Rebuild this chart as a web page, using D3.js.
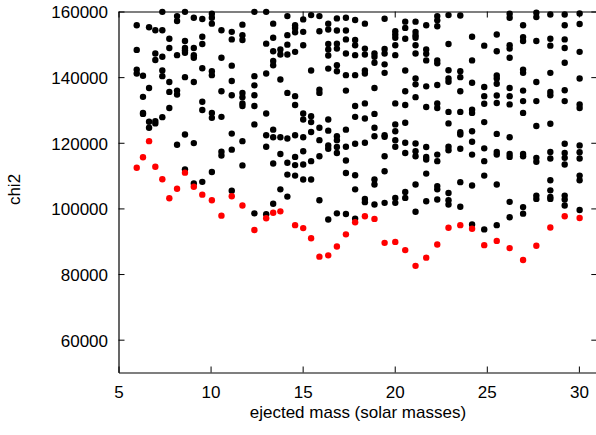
<!DOCTYPE html>
<html>
<head>
<meta charset="utf-8">
<script src="https://cdn.jsdelivr.net/npm/d3@7"></script>
<style>
  html, body { margin: 0; padding: 0; background: #fff; }
  svg { display: block; }
  text { font-family: "Liberation Sans", Arial, Helvetica, sans-serif; fill: #000; }
</style>
</head>
<body>
<svg id="chart" width="596" height="435"></svg>
<script>
// ---- data ----
const massGrid = [5.99, 6.33, 6.66, 7.00, 7.38, 7.76, 8.18, 8.61, 9.09, 9.55, 10.07, 10.59, 11.15,
  11.73, 12.38, 13.02, 13.40, 13.79, 14.17, 14.59, 15.03, 15.46, 15.91, 16.39, 16.86, 17.35, 17.85,
  18.38, 18.90, 19.45, 20.03, 20.57, 21.13, 21.71, 22.31, 22.92, 23.56, 24.20, 24.86, 25.54, 26.24,
  26.97, 27.69, 28.45, 29.23, 30.04];

// chi2 values of all fits at each mass of massGrid (thousands)
const chi2ByMass = [
  [155.8, 148.3, 142.3, 141.1],
  [140.4, 134.0, 129.1, 128.8],
  [155.2, 136.7, 126.4, 124.6],
  [154.3, 147.2, 145.2, 126.6, 125.9],
  [159.9, 154.3, 146.2, 142.0, 140.3, 127.8],
  [151.7, 148.9, 138.5, 135.5, 130.6],
  [158.6, 157.1, 146.7, 135.9, 134.7, 119.4],
  [159.9, 151.0, 148.9, 148.1, 147.4, 140.0, 122.5, 111.9],
  [158.1, 148.9, 146.7, 145.9, 138.5, 119.9, 107.6],
  [157.7, 152.3, 150.1, 142.7, 132.5, 130.0, 108.1],
  [159.3, 158.1, 156.3, 141.8, 140.6, 129.1, 127.6, 111.1],
  [154.3, 145.9, 135.7, 127.9, 117.3, 116.1],
  [153.8, 151.5, 143.5, 138.8, 134.5, 122.8, 117.9, 105.4],
  [156.0, 152.8, 151.3, 135.2, 133.9, 132.0, 131.2, 120.5, 113.1],
  [159.9, 140.3, 137.5, 134.5, 131.2, 125.6, 98.5],
  [159.9, 150.2, 141.1, 128.9, 122.3, 118.8, 98.2],
  [156.3, 152.0, 147.9, 144.9, 143.6, 124.0, 121.7, 113.7, 101.4],
  [148.4, 146.9, 139.3, 121.7, 116.6, 105.8],
  [158.6, 152.8, 149.9, 146.9, 135.2, 121.3, 113.9, 110.3, 103.6],
  [155.8, 155.0, 153.7, 147.7, 134.2, 131.5, 122.3, 115.7, 113.2, 110.0],
  [157.6, 153.8, 149.7, 128.9, 127.1, 121.7, 117.4, 113.4, 108.8],
  [158.9, 142.0, 128.1, 126.3, 123.3, 114.4, 108.8],
  [158.6, 154.0, 136.2, 135.2, 124.6, 120.8, 115.9, 102.5],
  [156.3, 154.5, 150.1, 148.4, 146.6, 142.6, 127.1, 123.7, 119.2, 118.2, 96.6],
  [157.9, 154.2, 150.2, 148.7, 143.6, 141.8, 122.0, 120.8, 118.7, 116.9, 98.5],
  [158.1, 154.2, 151.5, 147.2, 140.6, 135.9, 124.0, 118.8, 114.6, 110.8, 98.3],
  [157.4, 151.3, 149.7, 146.7, 140.6, 131.2, 127.9, 119.7, 110.1, 105.8, 96.9],
  [156.3, 148.7, 146.9, 142.0, 141.1, 132.0, 127.4, 120.0, 102.9, 101.9],
  [147.2, 146.2, 144.4, 136.7, 128.8, 124.6, 122.0, 108.8, 107.3, 101.2],
  [157.8, 148.6, 147.2, 143.9, 141.3, 122.3, 121.8, 115.9, 111.3, 101.7],
  [154.0, 153.0, 152.0, 149.7, 146.7, 132.0, 125.6, 123.5, 120.8, 118.8, 103.2, 101.7],
  [156.9, 155.0, 151.7, 142.0, 135.7, 131.5, 126.1, 120.0, 116.9, 105.0, 103.2],
  [156.9, 153.8, 152.8, 152.0, 149.7, 147.2, 139.6, 137.8, 133.9, 119.8, 117.4, 115.9, 107.3, 99.0],
  [155.8, 148.4, 147.1, 145.1, 137.2, 130.9, 118.7, 115.7, 114.9, 110.6, 102.2],
  [158.6, 157.3, 155.5, 145.1, 144.2, 137.6, 132.0, 130.6, 116.4, 114.4, 106.8, 105.8, 102.7],
  [158.9, 150.1, 142.1, 139.6, 138.6, 129.4, 125.9, 118.8, 117.7, 104.7, 102.5, 101.2],
  [158.8, 141.8, 140.0, 135.7, 129.4, 123.2, 122.5, 118.2, 108.0, 100.5],
  [152.3, 145.1, 138.3, 130.1, 129.1, 123.5, 120.3, 116.4, 107.0, 95.1],
  [149.6, 137.0, 134.2, 131.9, 126.3, 118.3, 114.4, 110.0, 93.6],
  [153.0, 147.9, 140.5, 139.6, 138.0, 134.4, 132.1, 122.7, 117.2, 116.4, 107.3, 94.9],
  [159.3, 158.1, 149.7, 148.7, 145.9, 136.7, 134.2, 131.7, 121.7, 116.6, 115.7, 102.0, 97.3],
  [155.8, 152.2, 151.0, 142.3, 141.3, 135.9, 132.7, 129.1, 116.6, 115.9, 100.4, 98.4],
  [159.6, 158.3, 151.0, 138.5, 132.7, 125.1, 115.4, 114.2, 103.9, 102.9],
  [159.1, 151.7, 149.6, 141.3, 135.5, 134.5, 125.8, 117.2, 115.2, 108.6, 105.5, 103.5, 102.9],
  [159.1, 155.8, 151.5, 148.9, 144.4, 136.0, 132.7, 119.7, 116.9, 115.4, 113.4, 103.9, 102.7, 100.9],
  [159.4, 156.2, 147.7, 139.6, 131.7, 130.6, 119.2, 117.1, 115.2, 110.0, 108.6, 99.5]
];

// best (red) fits
const bestMass = [5.99, 6.33, 6.66, 7.00, 7.38, 7.76, 8.18, 8.61, 9.09, 9.55, 10.07, 10.59, 11.15,
  11.73, 12.38, 13.02, 13.40, 13.79, 14.59, 15.03, 15.46, 15.91, 16.39, 16.86, 17.35, 17.85,
  18.38, 18.90, 19.45, 20.03, 20.57, 21.13, 21.71, 22.31, 22.92, 23.56, 24.20, 24.86, 25.54, 26.24,
  26.97, 27.69, 28.45, 29.23, 30.04];
const bestChi2 = [112.4, 115.6, 120.5, 112.7, 108.9, 103.1, 106.0, 110.9, 106.6, 104.2, 102.5, 97.8, 103.7,
  100.9, 93.4, 97.0, 98.7, 99.1, 94.9, 94.0, 90.9, 85.3, 85.7, 88.4, 92.1, 95.8,
  97.6, 96.8, 89.5, 89.8, 87.3, 82.5, 85.0, 89.0, 94.1, 94.9, 93.8, 88.8, 90.1, 87.9,
  84.3, 88.6, 94.2, 97.6, 97.1];
const chi2Unit = 1000;

const xTicks = [5, 10, 15, 20, 25, 30];
const yTicks = [60000, 80000, 100000, 120000, 140000, 160000];
const xTitle = "ejected mass (solar masses)";
const yTitle = "chi2";

// ---- layout ----
const svg = d3.select("#chart");
const L = 118.5, R = 597.3, T = 11.5, B = 372.5;
const x = d3.scaleLinear().domain([5, 31]).range([L, R]);
const y = d3.scaleLinear().domain([50000, 160000]).range([B, T]);
const fs = 17, tickLen = 6, rad = 3.2;

// black points
const allPts = [];
massGrid.forEach((m, i) => chi2ByMass[i].forEach(v => allPts.push([m, v * chi2Unit])));
svg.append("g").selectAll("circle").data(allPts).join("circle")
  .attr("cx", d => x(d[0])).attr("cy", d => y(d[1])).attr("r", rad).attr("fill", "#000");

// red points
const best = bestMass.map((m, i) => [m, bestChi2[i] * chi2Unit]);
svg.append("g").selectAll("circle").data(best).join("circle")
  .attr("cx", d => x(d[0])).attr("cy", d => y(d[1])).attr("r", rad).attr("fill", "#ff0000");

// axes (gnuplot style: inward ticks, mirrored)
const fmt = d3.format("d");
const gB = svg.append("g").attr("transform", `translate(0,${B})`)
  .call(d3.axisBottom(x).tickValues(xTicks).tickFormat(fmt).tickSizeInner(-tickLen).tickSizeOuter(0).tickPadding(14));
const gT = svg.append("g").attr("transform", `translate(0,${T})`)
  .call(d3.axisTop(x).tickValues(xTicks).tickFormat("").tickSizeInner(-tickLen).tickSizeOuter(0));
const gL = svg.append("g").attr("transform", `translate(${L},0)`)
  .call(d3.axisLeft(y).tickValues(yTicks).tickFormat(fmt).tickSizeInner(-tickLen).tickSizeOuter(0).tickPadding(10.5));
const gR = svg.append("g").attr("transform", `translate(${R},0)`)
  .call(d3.axisRight(y).tickValues(yTicks).tickFormat("").tickSizeInner(-tickLen).tickSizeOuter(0));

[gB, gT, gL, gR].forEach(g => {
  g.selectAll("path.domain").attr("stroke", "#000").attr("stroke-width", 1.2);
  g.selectAll(".tick line").attr("stroke", "#000").attr("stroke-width", 1);
  g.selectAll(".tick text").attr("font-size", fs).attr("font-family", '"Liberation Sans", Arial, sans-serif').attr("fill", "#000");
});
gB.selectAll(".tick text").attr("dy", null).attr("y", 25.5).attr("dominant-baseline", "auto");
gL.selectAll(".tick text").attr("dy", "0.38em");

// titles
svg.append("text").attr("x", (L + R) / 2).attr("y", 418).attr("text-anchor", "middle")
  .attr("font-size", fs).text(xTitle);
svg.append("text").attr("transform", `translate(20,189.5) rotate(-90)`).attr("text-anchor", "middle")
  .attr("font-size", fs).text(yTitle);
</script>
</body>
</html>
